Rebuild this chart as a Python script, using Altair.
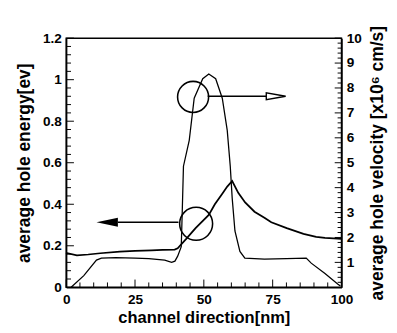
import altair as alt
import pandas as pd

# ---- data ----
# average hole energy (left axis, eV)
energy_x = [0, 0.4, 3.9, 8, 12.4, 19.5, 25, 31, 35, 39.4, 40.5, 43.6, 47, 51.8, 54,
            56.7, 58.5, 60.3, 62.5, 65, 68.4, 72, 74.5, 80.1, 86.2, 90.8, 94, 98.6, 100]
energy_y = [0.16, 0.164, 0.154, 0.158, 0.164, 0.172, 0.175, 0.178, 0.180, 0.182, 0.188,
            0.233, 0.285, 0.349, 0.40, 0.451, 0.485, 0.512, 0.455, 0.409, 0.364, 0.335,
            0.313, 0.285, 0.257, 0.243, 0.238, 0.234, 0.233]

# average hole velocity (right axis, x10^6 cm/s)
vel_x = [1.8, 6.4, 11, 12.8, 18, 25, 30, 35.8, 38.3, 39.5, 40.5, 41.8, 42.2, 42.6, 44.7,
         46.5, 49.6, 51.8, 54.3, 56.7, 58.5, 59.6, 60.3, 61.3, 63.1, 64.9, 72, 80, 87.2,
         89, 94, 98.6, 99.6]
vel_v = [0, 0.47, 1.09, 1.17, 1.19, 1.17, 1.15, 1.09, 1.0, 1.05, 1.25, 1.63, 3.2, 4.86, 5.9,
         7.59, 8.37, 8.56, 8.37, 7.59, 6.3, 4.86, 3.58, 2.26, 1.44, 1.17, 1.13, 1.15, 1.17,
         0.97, 0.55, 0.13, 0.05]

# annotations (in energy-axis coordinates)
circle_x = [46.1, 47.2]
circle_e = [0.917, 0.306]
circle_size = [1024, 1156]

arrow_x1 = [51.4, 40.8]
arrow_x2 = [72.7, 18.8]
arrow_e = [0.92, 0.313]

head_x = [76.2, 14.9]
head_e = [0.92, 0.313]

# tick values
e_major = [0, 0.2, 0.4, 0.6, 0.8, 1, 1.2]
e_minor = [round(i * 0.04, 2) for i in range(31) if i % 5]
v_major = [1, 2, 3, 4, 5, 6, 7, 8, 9, 10]
v_minor = [round(i * 0.2, 1) for i in range(51) if i % 5]
x_major = [0, 25, 50, 75, 100]
x_minor = [i * 5 for i in range(21) if i % 5]

W, H = 284, 257
FONT = "Liberation Sans"

energy_df = pd.DataFrame({"x": energy_x, "e": energy_y})
vel_df = pd.DataFrame({"x": vel_x, "v": vel_v})
circ_df = pd.DataFrame({"x": circle_x, "e": circle_e, "s": circle_size})
arrow_df = pd.DataFrame({"x": arrow_x1, "x2": arrow_x2, "e": arrow_e})
head_r_df = pd.DataFrame({"x": head_x[:1], "e": head_e[:1]})
head_l_df = pd.DataFrame({"x": head_x[1:], "e": head_e[1:]})

common_axis = dict(
    labelFont=FONT, labelFontWeight="bold", labelFontSize=14, labelColor="black",
    titleFont=FONT, titleFontWeight="bold", titleColor="black",
    ticks=False, domainColor="black", domainWidth=1.5,
    grid=False, labelOverlap=False, labelFlush=False,
)

x_axis = alt.Axis(values=x_major, orient="bottom", format="d",
                  labelPadding=6, titlePadding=3, titleFontSize=17,
                  title="channel direction[nm]", **common_axis)
x_enc = alt.X("x:Q", scale=alt.Scale(domain=[0, 100], nice=False, zero=False), axis=x_axis)

e_axis = alt.Axis(values=e_major, orient="left", format="~g",
                  labelPadding=5, titlePadding=9, titleFontSize=18,
                  title="average hole energy[ev]", **common_axis)
e_enc = alt.Y("e:Q", scale=alt.Scale(domain=[0, 1.2], nice=False), axis=e_axis)

v_axis = alt.Axis(values=v_major, orient="right", format="d",
                  labelPadding=5, titlePadding=8, titleFontSize=18,
                  titleAngle=270, titleBaseline="top",
                  title="average hole velocity [x10⁶ cm/s]", **common_axis)
v_enc = alt.Y("v:Q", scale=alt.Scale(domain=[0, 10], nice=False), axis=v_axis)

# inward tick marks, placed through the scales
e_maj_t = alt.Chart(pd.DataFrame({"e": e_major})).mark_rule(color="black", strokeWidth=1).encode(
    y=e_enc, x=alt.value(0), x2=alt.value(8))
e_min_t = alt.Chart(pd.DataFrame({"e": e_minor})).mark_rule(color="black", strokeWidth=1).encode(
    y=e_enc, x=alt.value(0), x2=alt.value(5))
x_maj_t = alt.Chart(pd.DataFrame({"x": x_major})).mark_rule(color="black", strokeWidth=1).encode(
    x=x_enc, y=alt.value(H), y2=alt.value(H - 8))
x_min_t = alt.Chart(pd.DataFrame({"x": x_minor})).mark_rule(color="black", strokeWidth=1).encode(
    x=x_enc, y=alt.value(H), y2=alt.value(H - 5))
v_maj_t = alt.Chart(pd.DataFrame({"v": v_major})).mark_rule(color="black", strokeWidth=1).encode(
    y=v_enc, x=alt.value(W), x2=alt.value(W - 7))
v_min_t = alt.Chart(pd.DataFrame({"v": v_minor})).mark_rule(color="black", strokeWidth=1).encode(
    y=v_enc, x=alt.value(W), x2=alt.value(W - 4))

energy_line = alt.Chart(energy_df).mark_line(color="black", strokeWidth=1.8).encode(x=x_enc, y=e_enc)
circles = alt.Chart(circ_df).mark_point(shape="circle", filled=False, color="black", strokeWidth=1.6, opacity=1).encode(
    x=x_enc, y=e_enc, size=alt.Size("s:Q", scale=None, legend=None))
arrows = alt.Chart(arrow_df).mark_rule(color="black", strokeWidth=1.6).encode(
    x=x_enc, x2="x2:Q", y=e_enc)
head_r = alt.Chart(head_r_df).mark_point(
    shape="M1,0L-1,-0.35L-1,0.35Z", filled=False, color="black", strokeWidth=1.4, size=400, opacity=1
).encode(x=x_enc, y=e_enc)
head_l = alt.Chart(head_l_df).mark_point(
    shape="M-1,0L1,-0.42L1,0.42Z", filled=True, color="black", size=484, opacity=1
).encode(x=x_enc, y=e_enc)

energy_group = alt.layer(energy_line, circles, arrows, head_r, head_l, e_maj_t, e_min_t, x_maj_t, x_min_t)

vel_line = alt.Chart(vel_df).mark_line(color="black", strokeWidth=1.3).encode(x=x_enc, y=v_enc)
vel_group = alt.layer(vel_line, v_maj_t, v_min_t)

chart = alt.layer(energy_group, vel_group).resolve_scale(y="independent").properties(
    width=W, height=H,
    padding={"left": 8, "top": 12, "right": 2, "bottom": 2},
    background="white",
).configure_view(stroke="black", strokeWidth=1.5)

chart.save("out.html", embed_options={"renderer": "svg", "actions": False})
